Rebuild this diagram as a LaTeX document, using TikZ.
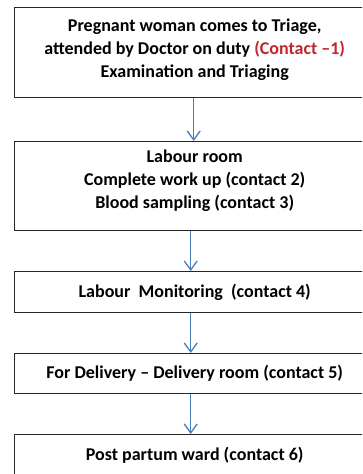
\documentclass[tikz,border=0pt]{standalone}
\usepackage{fontspec}
\setmainfont{Carlito}
\usetikzlibrary{arrows.meta}
\definecolor{flowblue}{HTML}{4A7EBB}
\definecolor{contactred}{HTML}{C0262D}
\tikzset{
  stepbox/.style={draw=black!85, line width=1.4pt, fill=white, rectangle,
    anchor=north west, minimum width=360pt, align=center,
    font=\bfseries\fontsize{18}{23}\selectfont, inner sep=0pt},
  flow/.style={draw=flowblue, line width=1.3pt,
    -{Straight Barb[length=9pt,width=13pt,line width=1.3pt]}}
}
\begin{document}
\begin{tikzpicture}[x=1pt,y=-1pt]
  \useasboundingbox (0,0) rectangle (362,474);
  \clip (0,0) rectangle (362,474);
  \node[stepbox, minimum height=90pt] (b1) at (14,7)
    {Pregnant woman comes to Triage,\\
     attended by Doctor on duty \textcolor{contactred}{(Contact –1)}\\
     Examination and Triaging\\[-14pt]\mbox{}};
  \node[stepbox, minimum height=89pt] (b2) at (14,141)
    {Labour room\\ Complete work up (contact 2)\\ Blood sampling (contact 3)\\[-8pt]\mbox{}};
  \node[stepbox, minimum height=41pt] (b3) at (14,271)
    {Labour\ \ Monitoring\ \ (contact 4)};
  \node[stepbox, minimum height=40pt] (b4) at (14,353)
    {For Delivery -- Delivery room (contact 5)};
  \node[stepbox, minimum height=42pt] (b5) at (14,434)
    {Post partum ward (contact 6)};
  \draw[flow] ([xshift=-1pt]b1.south) -- ([xshift=-1pt]b2.north);
  \draw[flow] ([xshift=-4pt]b2.south) -- ([xshift=-4pt]b3.north);
  \draw[flow] ([xshift=-4pt]b3.south) -- ([xshift=-4pt]b4.north);
  \draw[flow] ([xshift=-4pt]b4.south) -- ([xshift=-4pt]b5.north);
\end{tikzpicture}
\end{document}
